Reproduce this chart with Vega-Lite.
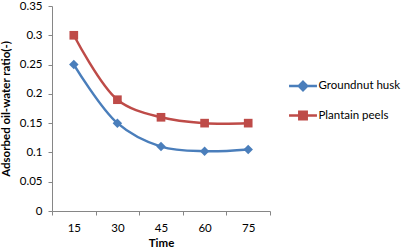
{
  "$schema": "https://vega.github.io/schema/vega-lite/v6.json",
  "width": 218,
  "height": 205,
  "autosize": "none",
  "padding": {"left": 52, "top": 6, "right": 135, "bottom": 39},
  "background": "white",
  "config": {
    "view": {"stroke": null},
    "font": "Lato",
    "axis": {"labelFont": "Lato", "titleFont": "Lato", "labelFontSize": 11.5, "titleFontSize": 11.5, "labelColor": "#000", "titleColor": "#000", "domainColor": "#868686", "tickColor": "#868686", "grid": false, "titleFontWeight": "bold"},
    "legend": {"labelFont": "Lato", "labelFontSize": 11.5, "labelColor": "#000"}
  },
  "data": {"values": [
    {"Time": 15, "series": "Groundnut husk", "ratio": 0.25},
    {"Time": 30, "series": "Groundnut husk", "ratio": 0.15},
    {"Time": 45, "series": "Groundnut husk", "ratio": 0.11},
    {"Time": 60, "series": "Groundnut husk", "ratio": 0.102},
    {"Time": 75, "series": "Groundnut husk", "ratio": 0.105},
    {"Time": 15, "series": "Plantain peels", "ratio": 0.3},
    {"Time": 30, "series": "Plantain peels", "ratio": 0.19},
    {"Time": 45, "series": "Plantain peels", "ratio": 0.16},
    {"Time": 60, "series": "Plantain peels", "ratio": 0.15},
    {"Time": 75, "series": "Plantain peels", "ratio": 0.15}
  ]},
  "encoding": {
    "x": {"field": "Time", "type": "ordinal", "scale": {"type": "band", "paddingInner": 0, "paddingOuter": 0},
      "axis": {"title": "Time", "labelAngle": 0, "tickBand": "extent", "tickSize": 4, "labelPadding": 7, "titlePadding": 4}},
    "y": {"field": "ratio", "type": "quantitative", "scale": {"domain": [0, 0.35]},
      "axis": {"title": "Adsorbed oil-water ratio(-)", "values": [0, 0.05, 0.1, 0.15, 0.2, 0.25, 0.3, 0.35], "format": "~g", "tickSize": 4, "labelPadding": 6, "titlePadding": 8}}
  },
  "layer": [
    {
      "mark": {"type": "line", "interpolate": "catmull-rom", "strokeWidth": 2.5},
      "encoding": {"color": {"field": "series", "type": "nominal",
        "scale": {"domain": ["Groundnut husk", "Plantain peels"], "range": ["#4A7EBB", "#BE4B48"]}}}
    },
    {
      "transform": [{"filter": "datum.series === 'Groundnut husk'"}],
      "mark": {"type": "point", "shape": "diamond", "filled": true, "size": 90, "opacity": 1},
      "encoding": {"color": {"field": "series", "type": "nominal"}}
    },
    {
      "transform": [{"filter": "datum.series === 'Plantain peels'"}],
      "mark": {"type": "point", "shape": "square", "filled": true, "size": 75, "opacity": 1},
      "encoding": {"color": {"field": "series", "type": "nominal"}}
    },
    {
      "mark": {"type": "point", "filled": true, "opacity": 0},
      "encoding": {
        "shape": {"field": "series", "type": "nominal",
          "scale": {"domain": ["Groundnut husk", "Plantain peels"], "range": ["M-2.07,0H2.07M0,-0.62L0.62,0L0,0.62L-0.62,0Z", "M-2.07,0H2.07M-0.55,-0.55H0.55V0.55H-0.55Z"]},
          "legend": {"title": null, "orient": "none", "legendX": 243, "legendY": 72, "padding": 0, "symbolSize": 182, "symbolOpacity": 1, "symbolStrokeWidth": 2.5, "labelOffset": 7.5, "rowPadding": 10.5}},
        "color": {"field": "series", "type": "nominal"},
        "stroke": {"field": "series", "type": "nominal", "scale": {"domain": ["Groundnut husk", "Plantain peels"], "range": ["#4A7EBB", "#BE4B48"]}}
      }
    }
  ]
}
